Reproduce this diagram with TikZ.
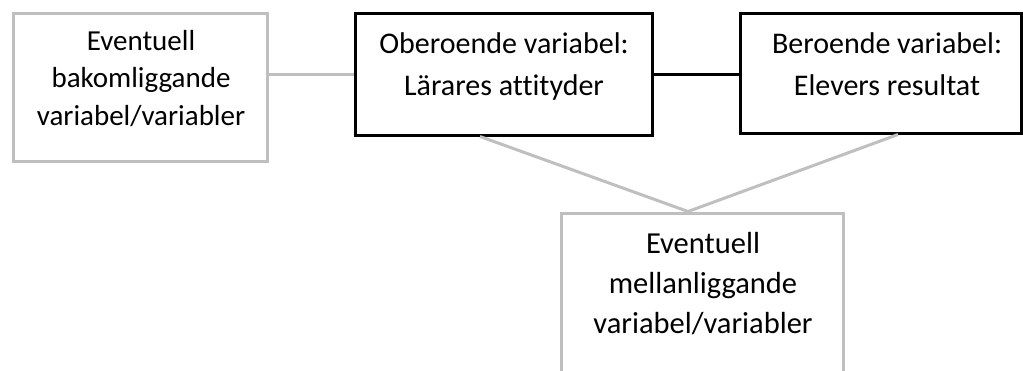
\documentclass[tikz,border=0pt]{standalone}
\usepackage{fontspec}
\setmainfont[Ligatures=NoCommon]{Carlito}
\definecolor{boxgray}{HTML}{BFBFBF}
\tikzset{
  x=1pt, y=1pt,
  graybox/.style={draw=boxgray, line width=3pt, rectangle, inner sep=0pt},
  blackbox/.style={draw=black, line width=3pt, rectangle, inner sep=0pt},
  grayline/.style={draw=boxgray, line width=3pt},
  blackline/.style={draw=black, line width=3pt},
  midtxtstyle/.style={align=center, inner sep=0pt, anchor=base, font=\fontsize{30}{42}\selectfont},
  bottxtstyle/.style={align=center, inner sep=0pt, anchor=base, font=\fontsize{30.5}{40}\selectfont},
  lefttxtstyle/.style={align=center, inner sep=0pt, anchor=base, font=\fontsize{29}{37.5}\selectfont},
}
\begin{document}
\begin{tikzpicture}
\useasboundingbox (0,0) rectangle (1023,-370);
\begin{scope}
\clip (0,0) rectangle (1023,-370);
% boxes
\node[graybox, minimum width=254pt, minimum height=148pt] (left) at (140,-87) {};
\node[blackbox, minimum width=297pt, minimum height=122pt] (mid) at (503.5,-74) {};
\node[blackbox, minimum width=281pt, minimum height=120pt] (right) at (880.5,-73) {};
\node[graybox, minimum width=282pt, minimum height=170pt] (bot) at (702,-298) {};
% texts (anchor = baseline of last line)
\node[lefttxtstyle] (lefttxt) at (141,-125) {Eventuell\\bakomliggande\\variabel/variabler};
\node[midtxtstyle] (midtxt) at (504,-95) {Oberoende variabel:\\Lärares attityder};
\node[midtxtstyle] (righttxt) at (887,-95) {Beroende variabel:\\Elevers resultat};
\node[bottxtstyle] (bottxt) at (703,-333) {Eventuell\\mellanliggande\\variabel/variabler};
% connectors
\coordinate (apex) at ([xshift=-14pt]bot.north);
\draw[grayline] (left.east |- mid.west) -- (mid.west);
\draw[blackline] (mid.east) -- (right.west |- mid.east);
\draw[grayline] ([xshift=-23.5pt]mid.south) -- (apex);
\draw[grayline] ([xshift=17.5pt]right.south) -- (apex);
\end{scope}
\end{tikzpicture}
\end{document}
